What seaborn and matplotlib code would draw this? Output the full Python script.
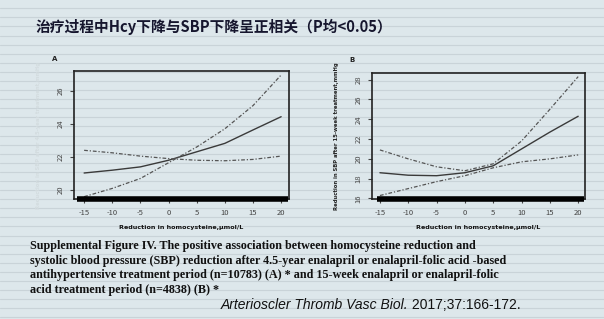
import numpy as np
import pandas as pd
import matplotlib
matplotlib.use("Agg")
import matplotlib.pyplot as plt
import seaborn as sns

# ---------------- data ----------------
x_vals = [-15, -10, -5, 0, 5, 10, 15, 20]
x_ticks = [-15, -10, -5, 0, 5, 10, 15, 20]

# Panel A (4.5-year treatment)
a_fit = [21.03, 21.20, 21.40, 21.80, 22.31, 22.82, 23.63, 24.43]
a_ci_rise = [19.60, 20.10, 20.70, 21.65, 22.60, 23.70, 25.10, 26.95]
a_ci_flat = [22.40, 22.25, 22.05, 21.90, 21.80, 21.77, 21.85, 22.05]
a_yticks = [20, 22, 24, 26]
a_rug = [-16.3, 21.2]

# Panel B (15-week treatment)
b_fit = [18.60, 18.35, 18.30, 18.60, 19.30, 21.00, 22.70, 24.30]
b_ci_upper = [20.90, 20.00, 19.20, 18.80, 19.50, 21.80, 25.00, 28.30]
b_ci_lower = [16.30, 17.00, 17.70, 18.30, 19.10, 19.70, 20.00, 20.40]
b_yticks = [16, 18, 20, 22, 24, 26, 28]
b_rug = [-15.6, 21.0]

title = "治疗过程中Hcy下降与SBP下降呈正相关（P均<0.05）"
xlabel = "Reduction in homocysteine,μmol/L"
ylabel_a = "Reduction in SBP after 4.5-year treatment,mmHg"
ylabel_b = "Reduction in SBP after 15-week treatment,mmHg"
caption = ["Supplemental Figure IV. The positive association between homocysteine reduction and",
           "systolic blood pressure (SBP) reduction after 4.5-year enalapril or enalapril-folic acid -based",
           "antihypertensive treatment period (n=10783) (A) * and 15-week enalapril or enalapril-folic",
           "acid treatment period (n=4838) (B) *"]
cite_it = "Arterioscler Thromb Vasc Biol."
cite_rest = " 2017;37:166-172."

# ---------------- style ----------------
sns.set_theme(style="white")
bg = "#dde7eb"
plt.rcParams["font.family"] = ["Noto Sans CJK SC", "DejaVu Sans"]

fig = plt.figure(figsize=(6.04, 3.19), dpi=100, facecolor=bg)

# faint screen stripes
for yy in np.arange(0.005, 1.0, 0.0285):
    fig.add_artist(plt.Line2D([0, 1], [yy, yy], color="#c9d3d8", lw=0.8,
                              transform=fig.transFigure, zorder=0))

fig.text(0.058, 1 - 27 / 319, title, fontsize=10.6, fontweight="bold", color="#16162e",
         ha="left", va="center")

dash = (0, (3, 1.5, 1, 1.5))


def panel(rect, fit, ci1, ci2, yticks, ylim, xlim, rug, ylabel, ylabel_color):
    ax = fig.add_axes(rect)
    ax.set_facecolor("none")
    df = pd.DataFrame({"x": x_vals * 3,
                       "y": fit + ci1 + ci2,
                       "s": ["fit"] * 8 + ["ci1"] * 8 + ["ci2"] * 8})
    sns.lineplot(data=df[df.s == "fit"], x="x", y="y", ax=ax, color="#3a3a3a",
                 lw=1.0, legend=False)
    sns.lineplot(data=df[df.s == "ci1"], x="x", y="y", ax=ax, color="#555555",
                 lw=0.9, legend=False, linestyle=dash)
    sns.lineplot(data=df[df.s == "ci2"], x="x", y="y", ax=ax, color="#555555",
                 lw=0.9, legend=False, linestyle=dash)
    ax.set_xlim(*xlim)
    ax.set_ylim(*ylim)
    ax.plot(rug, [ylim[0], ylim[0]], color="black", lw=4, solid_capstyle="butt",
            clip_on=False, zorder=5)
    ax.set_xticks(x_ticks)
    ax.set_xticklabels([str(t) for t in x_ticks])
    ax.set_yticks(yticks)
    ax.set_yticklabels([str(t) for t in yticks], rotation=90, va="center")
    ax.tick_params(axis="both", which="both", direction="out", length=3,
                   width=0.8, color="#444444", labelsize=5.5, labelcolor="#444444",
                   bottom=True, left=True, pad=4)
    for sp in ax.spines.values():
        sp.set_color("#222222")
        sp.set_linewidth(1.2)
    ax.set_xlabel(xlabel, fontsize=4.6, fontweight="bold", color="#111111",
                  labelpad=6, family=["DejaVu Sans"])
    ax.set_ylabel(ylabel, fontsize=3.8, fontweight="bold", color=ylabel_color,
                  labelpad=11, family=["DejaVu Sans"])
    return ax


axA = panel([0.1225, 0.3762, 0.356, 0.4012], a_fit, a_ci_rise, a_ci_flat,
            a_yticks, (19.46, 27.19), (-16.8, 21.4), a_rug, ylabel_a, "#d3dcdf")
axB = panel([0.6159, 0.3762, 0.3526, 0.396], b_fit, b_ci_upper, b_ci_lower,
            b_yticks, (15.95, 28.7), (-16.4, 21.2), b_rug, ylabel_b, "#222222")

fig.text(0.086, 0.81, "A", fontsize=5, fontweight="bold", color="#222222",
         family=["DejaVu Sans"])
fig.text(0.578, 0.805, "B", fontsize=5, fontweight="bold", color="#222222",
         family=["DejaVu Sans"])

for i, line in enumerate(caption):
    fig.text(0.05, 1 - (246 + 14.6 * i) / 319, line, fontsize=8.7, fontweight="bold",
             family=["Liberation Serif"], color="#111111", ha="left", va="center")

t1 = fig.text(0.365, 1 - 305 / 319, cite_it, fontsize=10, style="italic",
              family=["Liberation Sans"], color="#111111", ha="left", va="center")
fig.canvas.draw()
bb = t1.get_window_extent()
x_end = bb.x1 / fig.bbox.width
fig.text(x_end, 1 - 305 / 319, cite_rest, fontsize=10,
         family=["Liberation Sans"], color="#111111", ha="left", va="center")

fig.savefig("out.png", dpi=100, facecolor=bg)
